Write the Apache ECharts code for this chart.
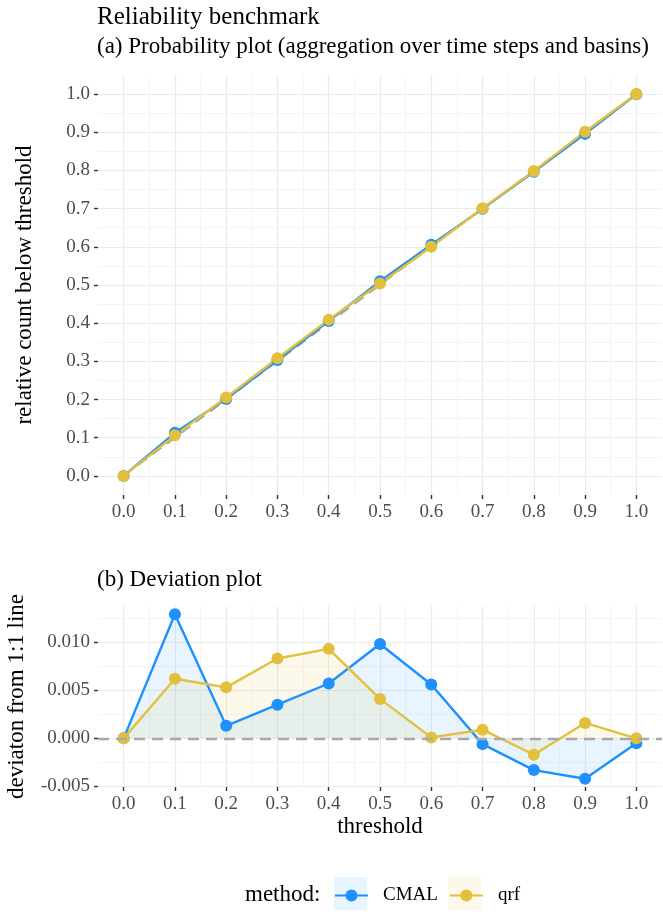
<!DOCTYPE html>
<html>
<head>
<meta charset="utf-8">
<title>Reliability benchmark</title>
<script src="https://cdn.jsdelivr.net/npm/echarts@6/dist/echarts.min.js"></script>
<style>
  html, body { margin: 0; padding: 0; background: #ffffff; }
  #chart { width: 663px; height: 912px; }
</style>
</head>
<body>
<div id="chart"></div>
<script>
// Probability thresholds shared by both panels
const thresholds = [0.0, 0.1, 0.2, 0.3, 0.4, 0.5, 0.6, 0.7, 0.8, 0.9, 1.0];

// (a) relative count of observations below each threshold
const cmalObserved = [0.0, 0.1129, 0.2013, 0.3035, 0.4057, 0.5098, 0.6056, 0.6994, 0.7967, 0.8958, 0.9995];
const qrfObserved  = [0.0, 0.1062, 0.2053, 0.3083, 0.4093, 0.5041, 0.6001, 0.7009, 0.7983, 0.9016, 1.0];

// (b) deviation from the 1:1 line
const cmalDeviation = [0.0, 0.0129, 0.0013, 0.0035, 0.0057, 0.0098, 0.0056, -0.0006, -0.0033, -0.0042, -0.0005];
const qrfDeviation  = [0.0, 0.0062, 0.0053, 0.0083, 0.0093, 0.0041, 0.0001, 0.0009, -0.0017, 0.0016, 0.0];

// Axis breaks
const xMajor = [0.0, 0.1, 0.2, 0.3, 0.4, 0.5, 0.6, 0.7, 0.8, 0.9, 1.0];
const xMinor = [0.05, 0.15, 0.25, 0.35, 0.45, 0.55, 0.65, 0.75, 0.85, 0.95];
const probMajor = [0.0, 0.1, 0.2, 0.3, 0.4, 0.5, 0.6, 0.7, 0.8, 0.9, 1.0];
const probMinor = [0.05, 0.15, 0.25, 0.35, 0.45, 0.55, 0.65, 0.75, 0.85, 0.95];
const devMajor = [-0.005, 0.0, 0.005, 0.010];
const devMinor = [-0.0025, 0.0025, 0.0075, 0.0125];

const methods = ['CMAL', 'qrf'];
const methodColors = { CMAL: '#1E90FF', qrf: '#E2C03C' };

const FONT = 'Liberation Serif';
const MAJOR_GRID = '#EBEBEB';
const MINOR_GRID = '#F4F4F4';

// ggplot-like 5% padding on continuous scales
function padRange(values) {
  const lo = Math.min(...values), hi = Math.max(...values);
  const pad = (hi - lo) * 0.05;
  return [lo - pad, hi + pad];
}
const xRange = padRange(thresholds);
const probRange = padRange([...cmalObserved, ...qrfObserved]);
const devRange = padRange([...cmalDeviation, ...qrfDeviation]);

function majorAxis(gridIndex, range, ticks, digits, extra) {
  return Object.assign({
    type: 'value',
    gridIndex: gridIndex,
    min: range[0],
    max: range[1],
    axisLine: { show: false, onZero: false },
    axisTick: { show: true, customValues: ticks, length: 4, lineStyle: { color: '#333333', width: 1.4 } },
    axisLabel: {
      customValues: ticks, margin: 8, color: '#4D4D4D', fontFamily: FONT, fontSize: 19,
      formatter: v => v.toFixed(digits)
    },
    splitLine: { show: true, lineStyle: { color: MAJOR_GRID, width: 1.2 } },
    nameTextStyle: { fontFamily: FONT, fontSize: 23, color: '#000000' }
  }, extra || {});
}

function minorAxis(gridIndex, range, ticks) {
  return {
    type: 'value',
    gridIndex: gridIndex,
    min: range[0],
    max: range[1],
    axisLine: { show: false, onZero: false },
    axisTick: { show: false, customValues: ticks },
    axisLabel: { show: false, customValues: ticks },
    splitLine: { show: true, lineStyle: { color: MINOR_GRID, width: 0.9 } }
  };
}

function pairs(xs, ys) {
  return xs.map((x, i) => [x, ys[i]]);
}

const probSeries = methods.map(m => ({
  name: m,
  type: 'line',
  xAxisIndex: 0,
  yAxisIndex: 0,
  data: pairs(thresholds, m === 'CMAL' ? cmalObserved : qrfObserved),
  symbol: 'circle',
  symbolSize: 12,
  color: methodColors[m],
  lineStyle: { width: 2.4, color: methodColors[m] },
  itemStyle: { color: methodColors[m] },
  z: 3
}));

const devSeries = methods.map(m => ({
  name: m,
  type: 'line',
  xAxisIndex: 2,
  yAxisIndex: 2,
  data: pairs(thresholds, m === 'CMAL' ? cmalDeviation : qrfDeviation),
  symbol: 'circle',
  symbolSize: 12,
  color: methodColors[m],
  lineStyle: { width: 2.4, color: methodColors[m] },
  itemStyle: { color: methodColors[m] },
  areaStyle: { color: methodColors[m], opacity: 0.1, origin: 'auto' },
  z: 3
}));

// 1:1 reference in panel (a)
const identitySeries = {
  name: 'identity',
  type: 'line',
  xAxisIndex: 0,
  yAxisIndex: 0,
  data: pairs(thresholds, thresholds),
  symbol: 'none',
  silent: true,
  lineStyle: { color: '#A6A6A6', width: 1.8, type: [11, 7] },
  z: 2
};

// zero reference in panel (b)
const zeroSeries = {
  name: 'zero',
  type: 'line',
  xAxisIndex: 2,
  yAxisIndex: 2,
  data: [],
  silent: true,
  markLine: {
    silent: true,
    symbol: 'none',
    label: { show: false },
    lineStyle: { color: '#A8A8A8', width: 2.4, type: [11, 7] },
    data: [{ yAxis: 0 }]
  },
  z: 2
};

const option = {
  animation: false,
  backgroundColor: '#ffffff',
  grid: [
    { left: 98, right: 1, top: 75, height: 420, outerBoundsMode: 'none', containLabel: false },
    { left: 98, right: 1, top: 606, height: 181, outerBoundsMode: 'none', containLabel: false }
  ],
  xAxis: [
    majorAxis(0, xRange, xMajor, 1),
    minorAxis(0, xRange, xMinor),
    majorAxis(1, xRange, xMajor, 1, {
      name: 'threshold', nameLocation: 'middle', nameGap: 28
    }),
    minorAxis(1, xRange, xMinor)
  ],
  yAxis: [
    majorAxis(0, probRange, probMajor, 1, {
      name: 'relative count below threshold', nameLocation: 'middle', nameGap: 62
    }),
    minorAxis(0, probRange, probMinor),
    majorAxis(1, devRange, devMajor, 3, {
      name: 'deviaton from 1:1 line', nameLocation: 'middle', nameGap: 70
    }),
    minorAxis(1, devRange, devMinor)
  ],
  legend: {
    data: methods,
    left: 334,
    top: 886,
    padding: 0,
    itemWidth: 33,
    itemHeight: 15,
    itemGap: 11,
    textStyle: { fontFamily: FONT, fontSize: 19, color: '#000000', padding: [0, 0, 0, 10] }
  },
  graphic: [
    { type: 'text', left: 97, top: 5, style: { text: 'Reliability benchmark', font: '25px "Liberation Serif"', fill: '#000000' } },
    { type: 'text', left: 97, top: 35, style: { text: '(a) Probability plot (aggregation over time steps and basins)', font: '23px "Liberation Serif"', fill: '#000000' } },
    { type: 'text', left: 97, top: 568, style: { text: '(b) Deviation plot', font: '23px "Liberation Serif"', fill: '#000000' } },
    { type: 'text', left: 245, top: 883, style: { text: 'method:', font: '23px "Liberation Serif"', fill: '#000000' } },
    { type: 'rect', left: 334, top: 877, shape: { width: 33, height: 33 }, style: { fill: 'rgba(30,144,255,0.1)' }, z: 0 },
    { type: 'rect', left: 448, top: 877, shape: { width: 33, height: 33 }, style: { fill: 'rgba(226,192,60,0.1)' }, z: 0 }
  ],
  series: [identitySeries, ...probSeries, zeroSeries, ...devSeries]
};

const chart = echarts.init(document.getElementById('chart'), null, { renderer: 'canvas' });
chart.setOption(option);
</script>
</body>
</html>
